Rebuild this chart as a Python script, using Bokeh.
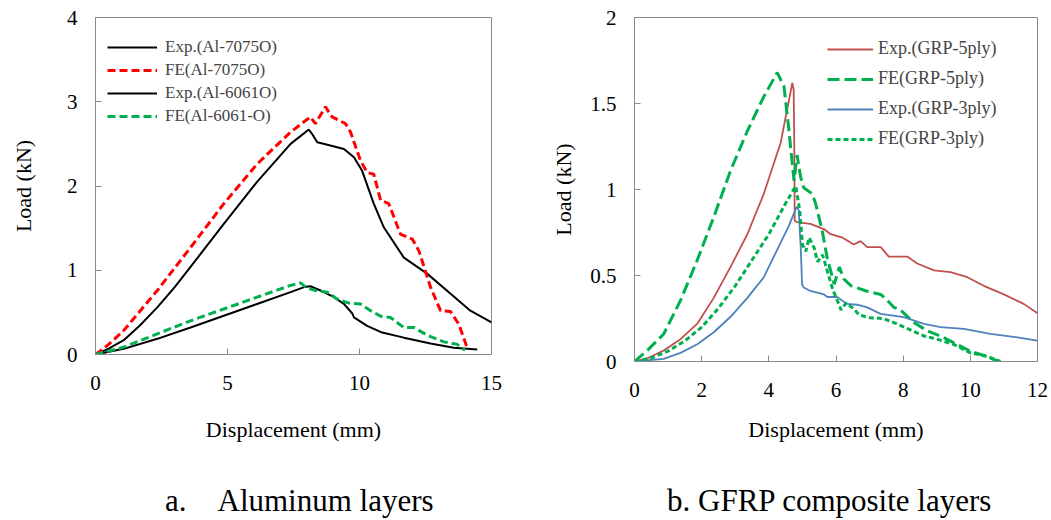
from bokeh.plotting import figure
from bokeh.models import (Range1d, FixedTicker, Legend, LegendItem, Div,
                          NumeralTickFormatter)
from bokeh.layouts import row, column
from bokeh.embed import file_html
from bokeh.resources import INLINE

FONT = "Liberation Serif"
GRAY = "#8a8a8a"

# ---------------- data: a. Aluminum layers ----------------
exp7075_x = [0, 0.5, 1.07, 1.7, 2.34, 3.0, 3.6, 4.86, 6.12, 7.39, 8.08, 8.2, 8.4,
             8.9, 9.41, 9.79, 10.1, 10.54, 10.92, 11.68, 12.56, 13.45, 14.2, 15.0]
exp7075_y = [0, 0.07, 0.17, 0.35, 0.56, 0.8, 1.04, 1.55, 2.05, 2.5, 2.67, 2.62, 2.52,
             2.48, 2.44, 2.34, 2.18, 1.79, 1.51, 1.15, 0.96, 0.72, 0.52, 0.38]

fe7075_x = [0, 0.5, 1.07, 2.34, 3.6, 4.86, 6.12, 7.39, 8.14, 8.33, 8.71, 8.96, 9.47,
            9.66, 10.04, 10.29, 10.54, 10.8, 11.11, 11.55, 12.0, 12.25, 12.69, 13.07,
            13.45, 13.76, 14.08]
fe7075_y = [0, 0.12, 0.285, 0.76, 1.27, 1.79, 2.26, 2.64, 2.82, 2.74, 2.94, 2.82, 2.74,
            2.64, 2.3, 2.16, 2.14, 1.83, 1.79, 1.43, 1.37, 1.23, 0.8, 0.52,
            0.51, 0.36, 0.08]

exp6061_x = [0, 1.07, 2.34, 3.6, 4.86, 6.12, 7.39, 7.9, 8.14, 8.52, 9.03, 9.41, 9.72,
             9.79, 10.29, 10.86, 11.68, 12.69, 13.57, 14.46]
exp6061_y = [0, 0.067, 0.186, 0.32, 0.46, 0.6, 0.74, 0.8, 0.81, 0.76, 0.68, 0.6, 0.49,
             0.44, 0.34, 0.26, 0.2, 0.13, 0.08, 0.06]

fe6061_x = [0, 1.07, 2.34, 3.6, 4.86, 6.12, 7.39, 7.77, 8.0, 8.33, 8.78, 9.15, 9.6,
            10.04, 10.42, 10.8, 11.17, 11.68, 12.06, 12.56, 13.2, 13.7, 14.0]
fe6061_y = [0, 0.087, 0.245, 0.4, 0.54, 0.68, 0.82, 0.85, 0.79, 0.76, 0.74, 0.66, 0.61,
            0.6, 0.52, 0.455, 0.44, 0.32, 0.32, 0.23, 0.15, 0.12, 0.05]

# ---------------- data: b. GFRP composite layers ----------------
exp5_x = [0, 0.4, 0.87, 1.37, 1.87, 2.36, 2.86, 3.36, 3.85, 4.35, 4.65, 4.7, 4.74, 4.76,
          4.77, 4.84, 5.24, 5.64, 5.84, 6.2, 6.53, 6.73, 6.93, 7.33, 7.57, 8.12, 8.42,
          8.92, 9.41, 9.91, 10.4, 11.0, 11.59, 12.0]
exp5_y = [0, 0.02, 0.064, 0.13, 0.22, 0.37, 0.55, 0.74, 0.975, 1.27, 1.57, 1.62, 1.58, 1.2,
          0.82, 0.81, 0.8, 0.77, 0.74, 0.72, 0.68, 0.7, 0.665, 0.665, 0.61, 0.61, 0.57,
          0.53, 0.52, 0.49, 0.44, 0.39, 0.335, 0.28]

fe5_x = [0, 0.38, 0.87, 1.37, 1.87, 2.36, 2.86, 3.36, 3.85, 4.25, 4.45, 4.6, 4.75, 4.84,
         4.95, 5.04, 5.29, 5.39, 5.59, 5.74, 5.95, 6.1, 6.23, 6.45, 6.9, 7.33, 7.53, 7.72,
         7.92, 8.3, 8.7, 9.2, 9.6, 10.0, 10.4, 10.85]
fe5_y = [0, 0.064, 0.16, 0.355, 0.59, 0.84, 1.11, 1.34, 1.54, 1.68, 1.6, 1.34, 1.05, 1.2,
         1.07, 1.01, 0.975, 0.92, 0.76, 0.6, 0.45, 0.55, 0.48, 0.44, 0.41, 0.39, 0.355,
         0.315, 0.3, 0.23, 0.18, 0.14, 0.1, 0.06, 0.035, 0.0]

exp3_x = [0, 0.87, 1.37, 1.87, 2.36, 2.86, 3.36, 3.85, 4.35, 4.6, 4.83, 4.89, 4.95, 4.99,
          5.04, 5.24, 5.44, 5.64, 5.74, 6.03, 6.33, 6.63, 6.93, 7.33, 7.6, 8.02, 8.62,
          9.11, 9.81, 10.6, 11.4, 12.0]
exp3_y = [0, 0.015, 0.05, 0.1, 0.17, 0.26, 0.37, 0.49, 0.69, 0.79, 0.9, 0.88, 0.66, 0.45,
          0.43, 0.41, 0.4, 0.39, 0.375, 0.375, 0.335, 0.33, 0.315, 0.277, 0.27, 0.258,
          0.219, 0.2, 0.19, 0.16, 0.14, 0.122]

fe3_x = [0, 0.5, 1.0, 1.5, 2.0, 2.5, 3.0, 3.5, 4.0, 4.5, 4.8, 4.92, 5.0, 5.1, 5.2, 5.35,
         5.45, 5.6, 5.75, 5.9, 6.05, 6.15, 6.3, 6.5, 6.7, 7.0, 7.4, 7.8, 8.2, 8.6, 9.0,
         9.5, 10.0, 10.5, 10.9]
fe3_y = [0, 0.02, 0.06, 0.12, 0.2, 0.31, 0.44, 0.59, 0.74, 0.92, 1.02, 0.88, 0.68, 0.64,
         0.72, 0.66, 0.58, 0.62, 0.52, 0.42, 0.35, 0.3, 0.34, 0.31, 0.27, 0.255, 0.25,
         0.22, 0.185, 0.15, 0.13, 0.1, 0.05, 0.03, 0.0]

left_xticks = [0, 5, 10, 15]
left_yticks = [0, 1, 2, 3, 4]
right_xticks = [0, 2, 4, 6, 8, 10, 12]
right_yticks = [0, 0.5, 1, 1.5, 2]

caption_a = "a.&nbsp;&nbsp;&nbsp;&nbsp;Aluminum layers"
caption_b = "b. GFRP composite layers"


def style(p, xticks, yticks, xlab_standoff, ylab_standoff):
    p.outline_line_color = GRAY
    p.outline_line_width = 1
    p.xgrid.visible = False
    p.ygrid.visible = False
    p.xaxis.ticker = FixedTicker(ticks=xticks)
    p.yaxis.ticker = FixedTicker(ticks=yticks)
    p.yaxis.formatter = NumeralTickFormatter(format="0.[0]")
    p.xaxis.formatter = NumeralTickFormatter(format="0.[0]")
    for ax in (p.xaxis[0], p.yaxis[0]):
        ax.axis_line_color = GRAY
        ax.major_tick_line_color = GRAY
        ax.major_tick_in = 6
        ax.major_tick_out = 0
        ax.minor_tick_line_color = None
        ax.major_label_text_font = FONT
        ax.major_label_text_font_size = "21px"
        ax.major_label_text_color = "black"
        ax.axis_label_text_font = FONT
        ax.axis_label_text_font_size = "22px"
        ax.axis_label_text_font_style = "normal"
        ax.axis_label_text_color = "black"
    p.xaxis.major_label_standoff = 21
    p.yaxis.major_label_standoff = 18
    p.xaxis.axis_label_standoff = xlab_standoff
    p.yaxis.axis_label_standoff = ylab_standoff


def caption_div(text, width, shift):
    html = ('<div style="margin:0 0 0 %dpx; text-align:left; font-family:\'%s\'; '
            'font-size:31px; line-height:26px; color:black; white-space:nowrap;">%s</div>'
            % (shift, FONT, text))
    return Div(text=html, width=width, height=30, margin=0)


# ---------------- figure a ----------------
p1 = figure(width=520, height=481, x_range=Range1d(0, 15), y_range=Range1d(0, 4),
            output_backend="svg", toolbar_location=None,
            min_border_left=95, min_border_right=29, min_border_top=17, min_border_bottom=127,
            x_axis_label="Displacement (mm)", y_axis_label="Load (kN)")
style(p1, left_xticks, left_yticks, 24, 28)

r1 = p1.line(exp7075_x, exp7075_y, line_color="black", line_width=2)
r2 = p1.line(fe7075_x, fe7075_y, line_color="#ff0000", line_width=3, line_dash="8 4")
r3 = p1.line(exp6061_x, exp6061_y, line_color="black", line_width=2)
r4 = p1.line(fe6061_x, fe6061_y, line_color="#00b050", line_width=3, line_dash="8 4")

leg1 = Legend(items=[LegendItem(label="Exp.(Al-7075O)", renderers=[r1]),
                     LegendItem(label="FE(Al-7075O)", renderers=[r2]),
                     LegendItem(label="Exp.(Al-6061O)", renderers=[r3]),
                     LegendItem(label="FE(Al-6061-O)", renderers=[r4])],
              location=(12, 228), padding=0, margin=0, spacing=3,
              glyph_width=50, glyph_height=20, label_height=20, label_standoff=8,
              label_text_font=FONT, label_text_font_size="17px",
              background_fill_alpha=0, border_line_color=None)
p1.add_layout(leg1)

# ---------------- figure b ----------------
p2 = figure(width=530, height=488, x_range=Range1d(0, 12), y_range=Range1d(0, 2),
            output_backend="svg", toolbar_location=None,
            min_border_left=114, min_border_right=13, min_border_top=17, min_border_bottom=127,
            x_axis_label="Displacement (mm)", y_axis_label="Load (kN)")
style(p2, right_xticks, right_yticks, 17, 11)

s1 = p2.line(exp5_x, exp5_y, line_color="#c0504d", line_width=1.8)
s2 = p2.line(fe5_x, fe5_y, line_color="#00b050", line_width=3, line_dash="12 5")
s3 = p2.line(exp3_x, exp3_y, line_color="#4f81bd", line_width=1.8)
s4 = p2.line(fe3_x, fe3_y, line_color="#00b050", line_width=3, line_dash="5 3")

leg2 = Legend(items=[LegendItem(label="Exp.(GRP-5ply)", renderers=[s1]),
                     LegendItem(label="FE(GRP-5ply)", renderers=[s2]),
                     LegendItem(label="Exp.(GRP-3ply)", renderers=[s3]),
                     LegendItem(label="FE(GRP-3ply)", renderers=[s4])],
              location=(193, 212), padding=0, margin=0, spacing=9,
              glyph_width=46, glyph_height=20, label_height=20, label_standoff=5,
              label_text_font=FONT, label_text_font_size="18px",
              background_fill_alpha=0, border_line_color=None)
p2.add_layout(leg2)

d1 = caption_div(caption_a, 520, 165)
d2 = caption_div(caption_b, 530, 147)

layout = column(row(p1, p2), row(d1, d2))
open("out.html", "w").write(file_html(layout, INLINE))
